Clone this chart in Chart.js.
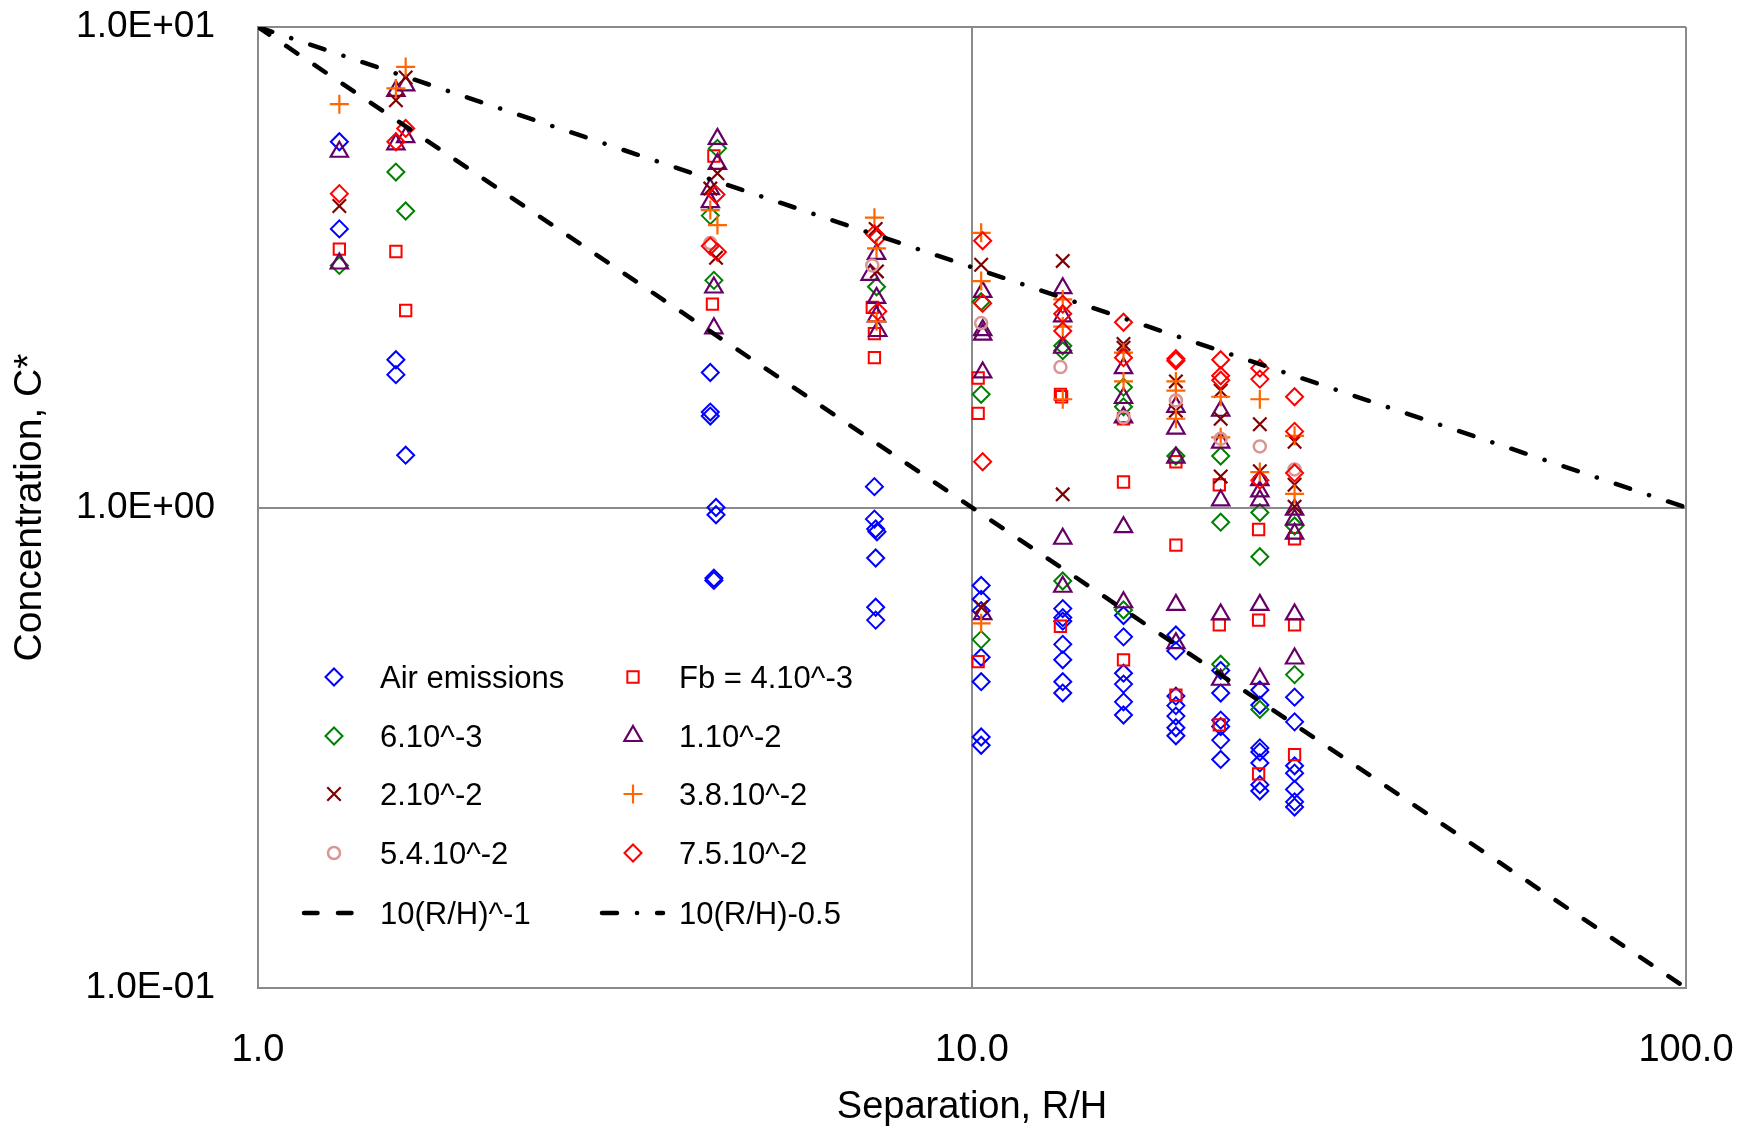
<!DOCTYPE html>
<html>
<head>
<meta charset="utf-8">
<title>Concentration vs separation</title>
<script src="https://cdn.jsdelivr.net/npm/chart.js@4.4.0/dist/chart.umd.min.js"></script>
<style>
html,body{margin:0;padding:0;background:#fff}
canvas{display:block}
</style>
</head>
<body>
<canvas id="chart" width="1754" height="1128"></canvas>
<script>
// axis ticks
const xTicks = [1, 10, 100];
const xTickLabels = ['1.0', '10.0', '100.0'];
const yTicks = [0.1, 1, 10];
const yTickLabels = ['1.0E-01', '1.0E+00', '1.0E+01'];

const seriesLabels = ['Air emissions', 'Fb = 4.10^-3', '6.10^-3', '1.10^-2',
  '2.10^-2', '3.8.10^-2', '5.4.10^-2', '7.5.10^-2'];

// [R/H, C*]
const airEmissions = [
  [1.3,5.77],[1.3,3.80],[1.56,2.03],[1.56,1.89],[1.61,1.285],
  [4.3,1.91],[4.3,1.58],[4.3,1.55],[4.38,1.0],[4.38,0.966],[4.35,0.713],[4.35,0.705],
  [7.3,1.105],[7.3,0.946],[7.33,0.902],[7.36,0.89],[7.33,0.785],[7.33,0.62],[7.33,0.583],
  [10.3,0.688],[10.3,0.644],[10.3,0.61],[10.3,0.488],[10.3,0.434],[10.3,0.333],[10.3,0.32],
  [13.4,0.616],[13.4,0.59],[13.4,0.58],[13.4,0.519],[13.4,0.482],[13.4,0.434],[13.4,0.411],
  [16.3,0.596],[16.3,0.538],[16.3,0.452],[16.3,0.429],[16.3,0.394],[16.3,0.37],
  [19.3,0.543],[19.3,0.503],[19.3,0.405],[19.3,0.387],[19.3,0.368],[19.3,0.348],[19.3,0.335],
  [22.3,0.458],[22.3,0.411],[22.3,0.361],[22.3,0.35],[22.3,0.328],[22.3,0.299],
  [25.3,0.417],[25.3,0.388],[25.3,0.316],[25.3,0.31],[25.3,0.294],[25.3,0.265],[25.3,0.257],
  [28.3,0.403],[28.3,0.358],[28.3,0.29],[28.3,0.28],[28.3,0.259],[28.3,0.244],[28.3,0.238]
];
const fb4e3 = [
  [1.3,3.45],[1.56,3.41],[1.61,2.57],[4.35,5.39],[4.33,2.65],
  [7.25,2.61],[7.3,2.30],[7.3,2.05],[10.2,1.86],[10.2,1.57],[10.2,0.478],
  [13.3,1.72],[13.35,1.70],[13.3,0.566],[16.3,1.53],[16.3,1.13],[16.3,0.482],
  [19.3,1.245],[19.3,0.835],[19.3,0.407],[22.2,1.115],[22.2,0.57],[22.2,0.353],
  [25.2,0.90],[25.2,0.583],[25.2,0.279],[28.3,0.861],[28.3,0.57],[28.3,0.306]
];
const fb6e3 = [
  [1.3,3.19],[1.56,4.99],[1.61,4.14],[4.4,5.59],[4.3,4.05],[4.35,2.97],
  [7.35,2.88],[10.3,2.68],[10.3,1.72],[10.3,0.531],
  [13.4,2.17],[13.4,2.12],[13.4,0.703],[16.3,1.78],[16.3,1.62],[16.3,0.612],
  [19.3,1.28],[22.3,1.28],[22.3,0.932],[22.3,0.472],
  [25.3,0.976],[25.3,0.79],[25.3,0.38],[28.3,0.915],[28.3,0.449]
];
const fb1e2 = [
  [1.3,5.50],[1.3,3.22],[1.56,7.36],[1.56,5.7],[1.61,7.56],[1.61,5.9],
  [4.4,5.85],[4.4,5.19],[4.3,4.6],[4.3,4.32],[4.35,2.87],[4.35,2.36],
  [7.35,3.37],[7.2,3.05],[7.35,2.73],[7.35,2.5],[7.38,2.33],
  [10.35,2.81],[10.35,2.34],[10.35,2.29],[10.35,1.91],[10.35,0.60],
  [13.4,2.86],[13.4,2.5],[13.4,2.15],[13.4,0.861],[13.4,0.684],
  [16.3,1.95],[16.3,1.69],[16.3,1.54],[16.3,0.91],[16.3,0.635],
  [19.3,1.62],[19.3,1.46],[19.3,1.27],[19.3,0.627],[19.3,0.522],
  [22.3,1.59],[22.3,1.365],[22.3,1.035],[22.3,0.599],[22.3,0.438],
  [25.3,1.14],[25.3,1.08],[25.3,1.035],[25.3,0.627],[25.3,0.44],
  [28.3,0.99],[28.3,0.944],[28.3,0.882],[28.3,0.599],[28.3,0.485]
];
const fb2e2 = [
  [1.3,4.24],[1.56,7.04],[1.61,7.85],[4.4,4.96],[4.3,4.61],[4.38,3.31],
  [7.33,3.80],[7.36,3.10],[10.3,3.20],[10.3,0.62],[13.4,3.26],[13.4,1.065],
  [16.3,2.19],[16.3,2.15],[19.3,1.83],[19.3,1.59],
  [22.3,1.75],[22.3,1.53],[22.3,1.16],[25.3,1.49],[25.3,1.19],
  [28.3,1.37],[28.3,1.115],[28.3,1.004]
];
const fb38e2 = [
  [1.3,6.91],[1.56,7.45],[1.61,8.26],[4.3,4.16],[4.4,3.87],
  [7.3,4.01],[7.35,3.46],[7.35,2.44],[10.3,3.73],[10.3,2.96],[10.3,0.574],
  [13.4,2.71],[13.4,2.38],[13.4,1.68],[16.3,2.10],[16.3,1.83],
  [19.3,1.83],[19.3,1.75],[19.3,1.53],[22.3,1.70],[22.3,1.40],
  [25.3,1.68],[25.3,1.185],[28.3,1.41],[28.3,1.067]
];
const fb54e2 = [
  [4.3,3.55],[7.25,3.19],[10.3,2.42],[13.3,1.96],[16.3,1.54],
  [19.3,1.67],[22.3,1.39],[25.3,1.34],[28.3,1.20]
];
const fb75e2 = [
  [1.3,4.50],[1.56,5.77],[1.61,6.15],[4.38,4.48],[4.3,3.50],[4.4,3.40],
  [7.3,3.71],[7.38,3.65],[7.38,2.56],[10.35,3.59],[10.35,2.66],[10.35,1.245],
  [13.4,2.65],[13.4,2.53],[13.4,2.33],[16.3,2.43],[16.3,2.05],
  [19.3,2.04],[19.3,2.02],[22.3,2.03],[22.3,1.88],[22.3,1.84],
  [25.3,1.95],[25.3,1.85],[25.3,1.14],[28.3,1.70],[28.3,1.44],[28.3,1.18]
];

// reference power laws, end points
const lineLabels = ['10(R/H)^-1', '10(R/H)-0.5'];
const lineX = [1, 100];
const powerMinus1Y = [10, 0.1];
const powerMinusHalfY = [10, 1];

const seriesData = [airEmissions, fb4e3, fb6e3, fb1e2, fb2e2, fb38e2, fb54e2, fb75e2];
const markers = [
  {style:'rectRot', color:'#0000ff', r:8.5, w:2},
  {style:'rect', color:'#ff0000', r:8, w:2},
  {style:'rectRot', color:'#008000', r:8.5, w:2},
  {style:'triangle', color:'#660066', r:10, w:2.2},
  {style:'crossRot', color:'#800000', r:9.5, w:2.2},
  {style:'cross', color:'#ff6600', r:9.5, w:2.2},
  {style:'circle', color:'#d99694', r:6, w:2.5},
  {style:'rectRot', color:'#ff0000', r:8.5, w:2}
];

const FONT = '"Liberation Sans", Arial, sans-serif';
const GRID = '#8a8a8a';

const datasets = seriesData.map((pts, i) => ({
  label: seriesLabels[i],
  data: pts.map(p => ({x: p[0], y: p[1]})),
  showLine: false,
  pointStyle: markers[i].style,
  pointRadius: markers[i].r,
  pointBorderWidth: markers[i].w,
  pointBorderColor: markers[i].color,
  pointBackgroundColor: 'rgba(0,0,0,0)',
  order: 20 - i
}));
[[powerMinus1Y, [13.5, 20.5]], [powerMinusHalfY, [15, 20, 0.1, 20]]].forEach(([ys, dash], i) => {
  datasets.push({
    label: lineLabels[i],
    data: lineX.map((x, k) => ({x, y: ys[k]})),
    showLine: true,
    pointRadius: 0,
    borderColor: '#000',
    borderWidth: 4.5,
    borderDash: dash,
    borderCapStyle: 'round',
    order: 1 - i
  });
});

// two-column legend inside the plot, like the original
const insideLegend = {
  id: 'insideLegend',
  afterDraw(chart) {
    const ctx = chart.ctx;
    const cols = [{mark:334, text:380, line:[304, 356]}, {mark:633, text:679, line:[602, 663]}];
    const rows = [677, 736, 794, 853, 913];
    ctx.save();
    chart.data.datasets.forEach((ds, i) => {
      const c = cols[i % 2], y = rows[Math.floor(i / 2)];
      if (ds.showLine) {
        ctx.strokeStyle = ds.borderColor;
        ctx.lineWidth = ds.borderWidth;
        ctx.lineCap = 'round';
        ctx.setLineDash(ds.borderDash);
        ctx.beginPath();
        ctx.moveTo(c.line[0], y);
        ctx.lineTo(c.line[1], y);
        ctx.stroke();
        ctx.setLineDash([]);
      } else {
        ctx.fillStyle = 'rgba(0,0,0,0)';
        ctx.strokeStyle = ds.pointBorderColor;
        ctx.lineWidth = ds.pointBorderWidth;
        ctx.lineCap = 'butt';
        Chart.helpers.drawPoint(ctx, {pointStyle: ds.pointStyle, radius: ds.pointRadius,
          borderWidth: ds.pointBorderWidth, rotation: 0}, c.mark, y);
      }
      ctx.fillStyle = '#000';
      ctx.font = '31px ' + FONT;
      ctx.textBaseline = 'middle';
      ctx.fillText(ds.label, c.text, y + 2);
    });
    ctx.restore();
  }
};

Chart.defaults.font.family = FONT;
Chart.defaults.color = '#000';

new Chart(document.getElementById('chart'), {
  type: 'scatter',
  data: {datasets},
  plugins: [insideLegend],
  options: {
    responsive: false,
    animation: false,
    layout: {padding: {top: 27, right: 68, left: 0, bottom: 0}},
    plugins: {legend: {display: false}, tooltip: {enabled: false}},
    scales: {
      x: {
        type: 'logarithmic', min: 1, max: 100, position: 'bottom',
        afterBuildTicks: a => { a.ticks = xTicks.map(v => ({value: v})); },
        afterFit: s => { s.height = 140; s.paddingLeft = 0; s.paddingRight = 0; },
        ticks: {
          autoSkip: false, maxRotation: 0, padding: 40,
          font: {size: 38},
          callback: v => xTickLabels[xTicks.indexOf(v)]
        },
        grid: {color: GRID, lineWidth: 2, drawTicks: false},
        border: {color: GRID, width: 2},
        title: {display: true, text: 'Separation, R/H', font: {size: 38, lineHeight: 1.1}, padding: 0}
      },
      y: {
        type: 'logarithmic', min: 0.1, max: 10,
        afterBuildTicks: a => { a.ticks = yTicks.map(v => ({value: v})); },
        afterFit: s => { s.width = 258; s.paddingTop = 0; s.paddingBottom = 0; },
        ticks: {
          autoSkip: false, padding: 43,
          font: {size: 37},
          callback: v => yTickLabels[yTicks.indexOf(v)]
        },
        grid: {color: GRID, lineWidth: 2, drawTicks: false},
        border: {color: GRID, width: 2},
        title: {display: true, text: 'Concentration, C*', font: {size: 39, lineHeight: 1.2}, padding: {top: 7, bottom: 0}}
      }
    }
  }
});
</script>
</body>
</html>
